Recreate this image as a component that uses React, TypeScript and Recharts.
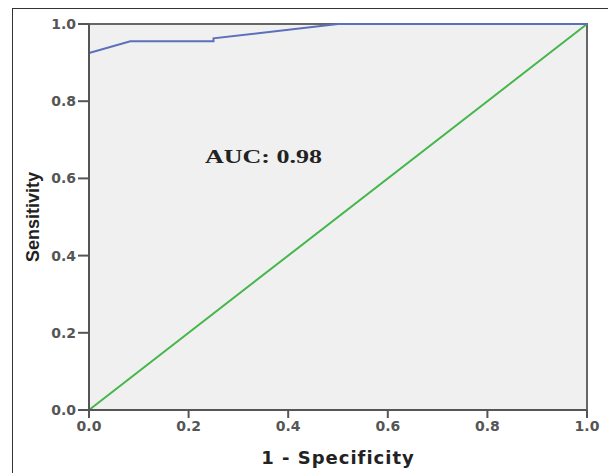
import {
  LineChart,
  Line,
  XAxis,
  YAxis,
  ReferenceArea,
  Label,
} from "recharts";

// ROC curve points (1 - specificity, sensitivity)
const rocFpr = [0, 0, 0.083, 0.25, 0.25, 0.5, 1.0];
const rocTpr = [0, 0.925, 0.955, 0.955, 0.963, 1.0, 1.0];

// reference diagonal
const diagFpr = [0, 1];
const diagTpr = [0, 1];

const axisTicks = [0, 0.2, 0.4, 0.6, 0.8, 1.0];

const rocData = rocFpr.map((x, i) => ({ x, y: rocTpr[i] }));
const diagData = diagFpr.map((x, i) => ({ x, y: diagTpr[i] }));

const tickStyle = {
  fontFamily: "'DejaVu Sans', sans-serif",
  fontWeight: 700,
  fontSize: 14,
  fill: "#555",
};

export default function App() {
  return (
    <div
      style={{
        position: "absolute",
        left: 0,
        top: 0,
        width: 608,
        height: 473,
        background: "#fff",
        overflow: "hidden",
      }}
    >
      {/* outer figure frame */}
      <div
        style={{
          position: "absolute",
          left: 12,
          top: 8,
          width: 620,
          height: 480,
          borderLeft: "1px solid #333",
          borderTop: "1px solid #333",
        }}
      />
      <div style={{ position: "absolute", left: 0, top: 0 }}>
        <LineChart
          width={608}
          height={473}
          margin={{ top: 24, right: 21, left: 0, bottom: 0 }}
        >
          <ReferenceArea
            x1={0}
            x2={1}
            y1={0}
            y2={1}
            fill="#f0f0f0"
            fillOpacity={1}
            stroke="#666"
            strokeWidth={2}
          />
          <XAxis
            type="number"
            dataKey="x"
            domain={[0, 1]}
            ticks={axisTicks}
            tickFormatter={(v: number) => v.toFixed(1)}
            tick={tickStyle}
            tickSize={8}
            tickMargin={3}
            height={63}
            axisLine={{ stroke: "#555", strokeWidth: 2 }}
            tickLine={{ stroke: "#555", strokeWidth: 2 }}
          >
            <Label
              content={({ viewBox }: any) => (
                <text
                  x={viewBox.x + viewBox.width / 2}
                  y={464}
                  textAnchor="middle"
                  fontFamily="'DejaVu Sans', sans-serif"
                  fontWeight={700}
                  fontSize={18}
                  letterSpacing={1}
                  fill="#222"
                >
                  1 - Specificity
                </text>
              )}
            />
          </XAxis>
          <YAxis
            type="number"
            domain={[0, 1]}
            ticks={axisTicks}
            tickFormatter={(v: number) => v.toFixed(1)}
            tick={tickStyle}
            tickSize={11}
            tickMargin={2}
            width={89}
            axisLine={{ stroke: "#555", strokeWidth: 2 }}
            tickLine={{ stroke: "#555", strokeWidth: 2 }}
          >
            <Label
              content={({ viewBox }: any) => {
                const cy = viewBox.y + viewBox.height / 2;
                return (
                  <text
                    x={33}
                    y={cy}
                    transform={`rotate(-90, 33, ${cy})`}
                    textAnchor="middle"
                    dominantBaseline="central"
                    fontFamily="'Liberation Sans', Arial, sans-serif"
                    fontWeight={700}
                    fontSize={18}
                    fill="#222"
                  >
                    Sensitivity
                  </text>
                );
              }}
            />
          </YAxis>
          <Line
            data={diagData}
            dataKey="y"
            type="linear"
            stroke="#45b64a"
            strokeWidth={2}
            dot={false}
            activeDot={false}
            isAnimationActive={false}
          />
          <Line
            data={rocData}
            dataKey="y"
            type="linear"
            stroke="#5b6fbd"
            strokeWidth={2}
            dot={false}
            activeDot={false}
            isAnimationActive={false}
          />
        </LineChart>
      </div>
      <svg
        width={608}
        height={473}
        style={{ position: "absolute", left: 0, top: 0, pointerEvents: "none" }}
      >
        <text
          x={205}
          y={163}
          textLength={117}
          lengthAdjust="spacingAndGlyphs"
          fontFamily="'Liberation Serif', 'Times New Roman', serif"
          fontWeight={700}
          fontSize={19}
          fill="#222"
        >
          AUC: 0.98
        </text>
      </svg>
    </div>
  );
}
